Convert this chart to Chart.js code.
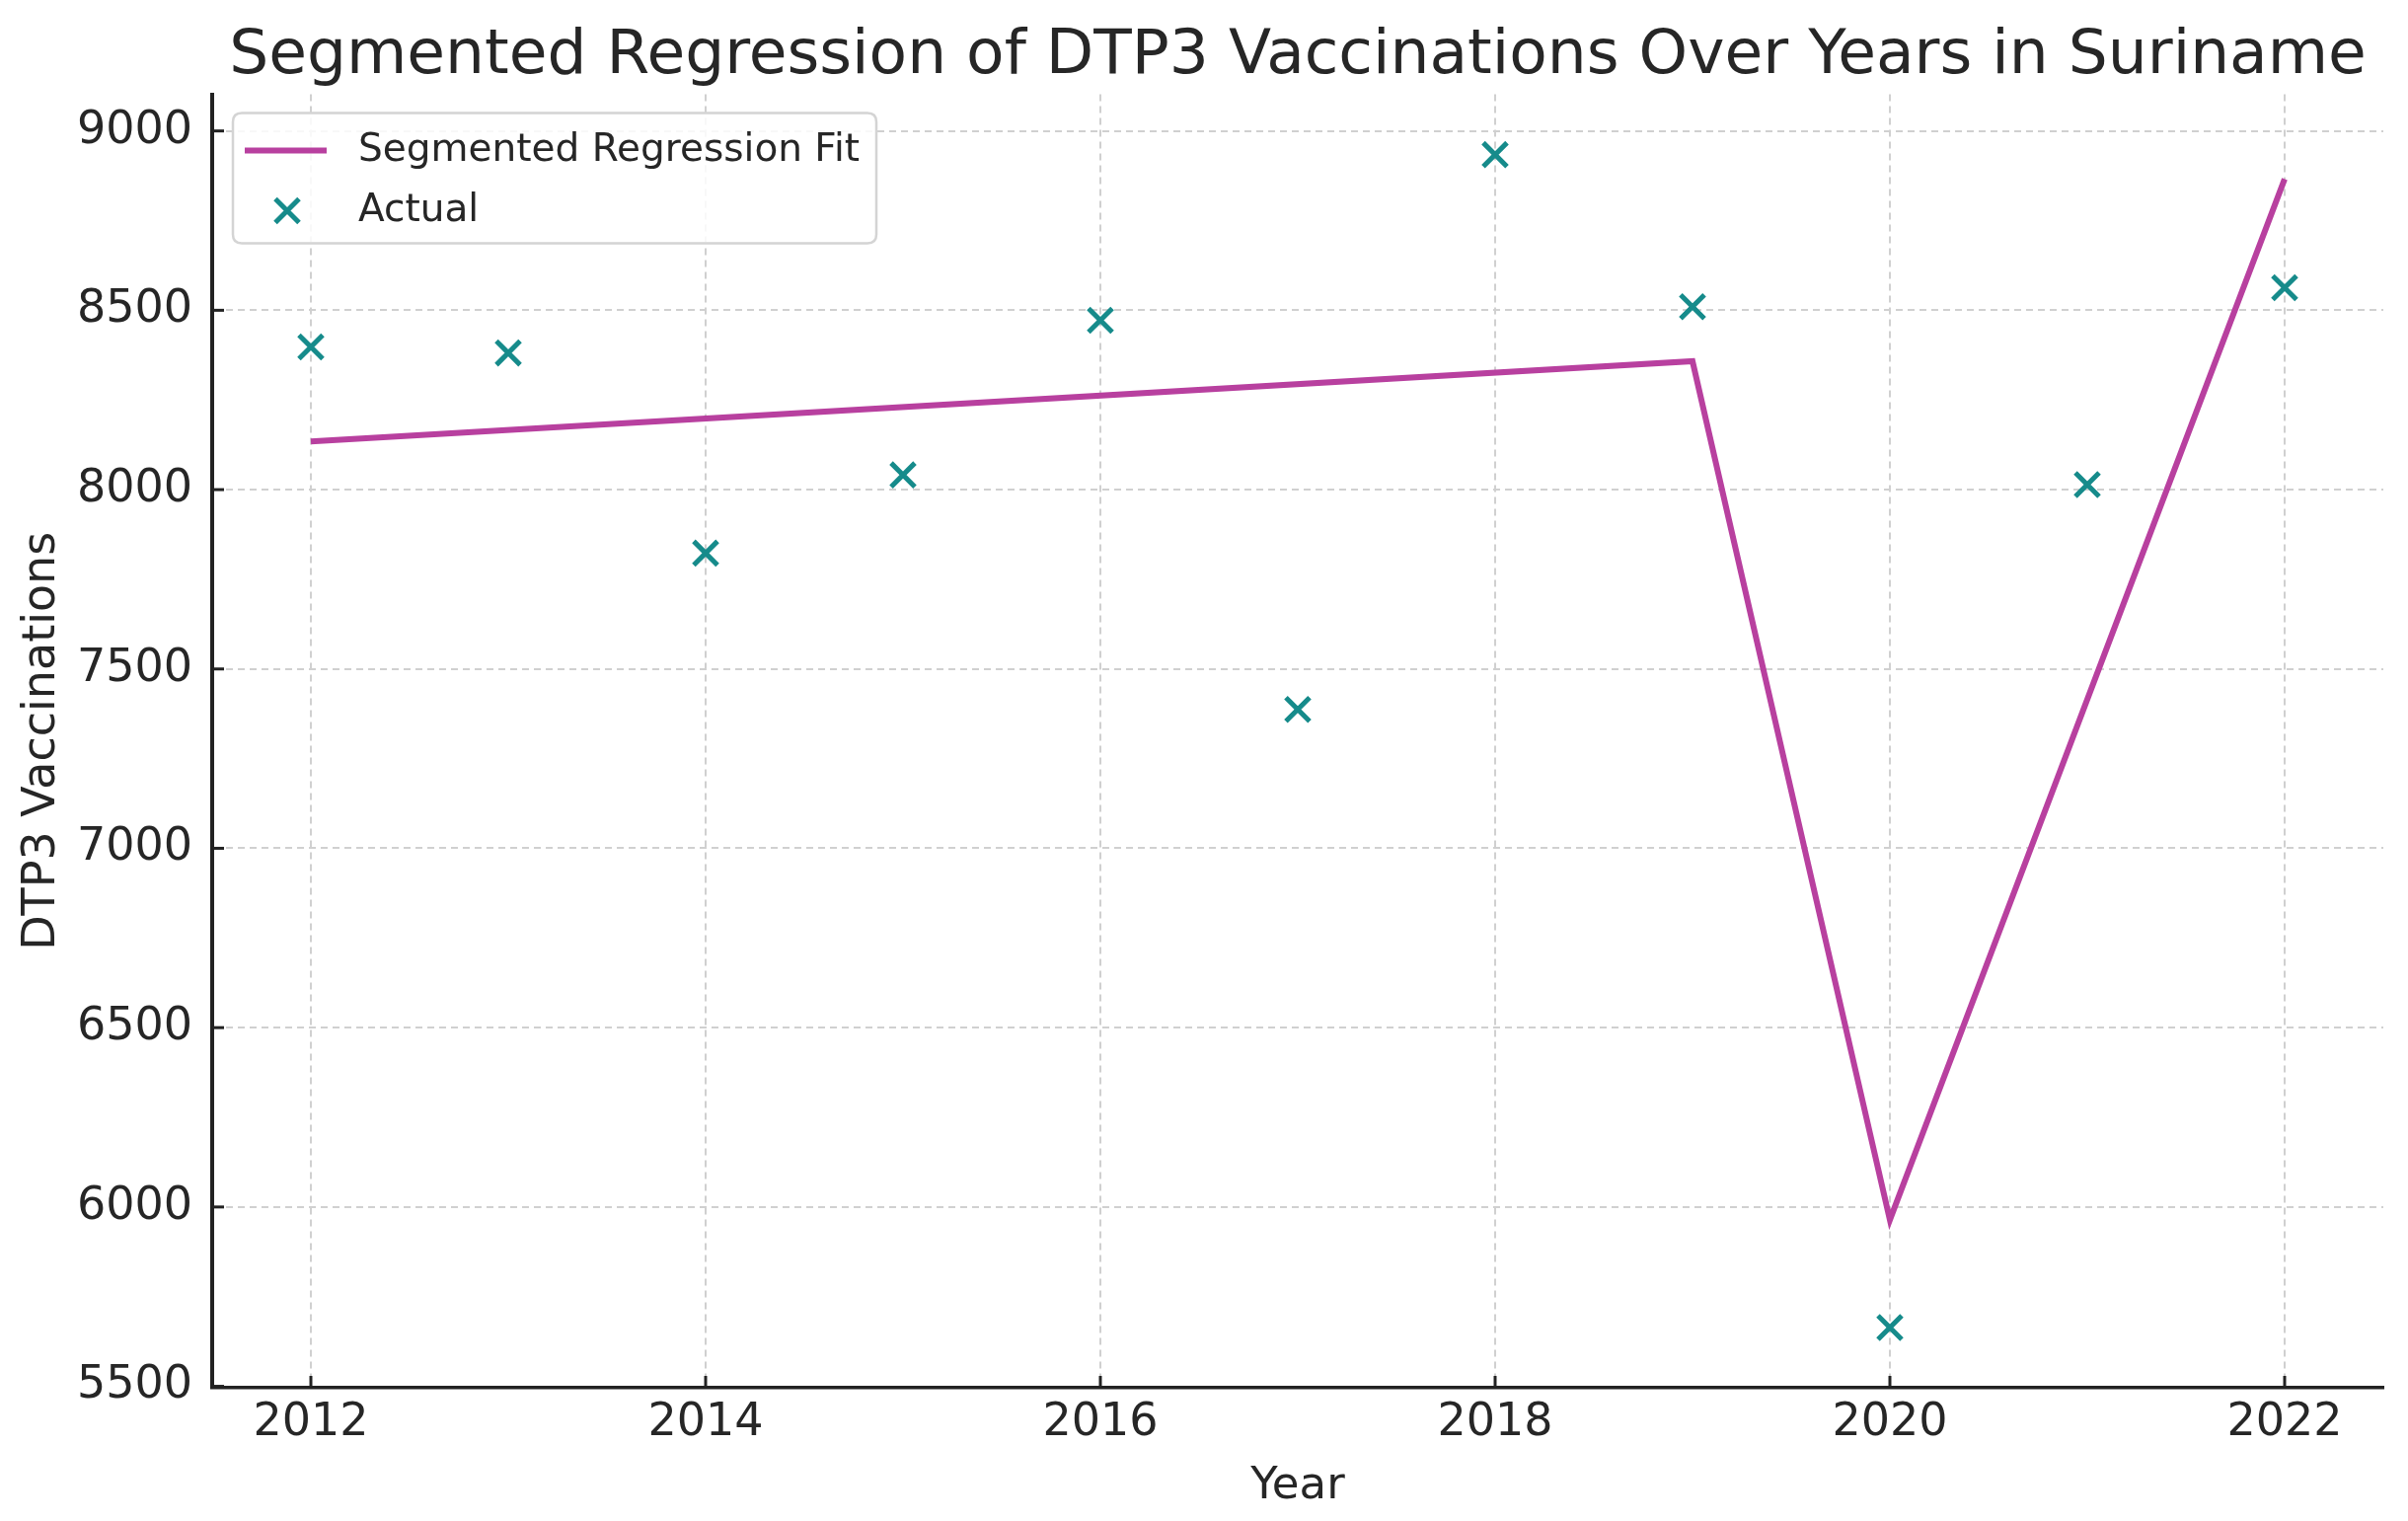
<!DOCTYPE html>
<html>
<head>
<meta charset="utf-8">
<script src="https://cdn.jsdelivr.net/npm/chart.js@4.4.1/dist/chart.umd.min.js"></script>
<style>
  html, body { margin: 0; padding: 0; background: #ffffff; }
  #wrap { width: 2440px; height: 1541px; }
</style>
</head>
<body>
<div id="wrap"><canvas id="c" width="2440" height="1541"></canvas></div>
<script>
const years = [2012, 2013, 2014, 2015, 2016, 2017, 2018, 2019, 2020, 2021, 2022];
const actualValues = [8398, 8381, 7823, 8041, 8472, 7387, 8934, 8510, 5664, 8014, 8563];
const fitYears = [2012, 2019, 2020, 2022];
const fitValues = [8134, 8358, 5964, 8866];
const xTickValues = [2012, 2014, 2016, 2018, 2020, 2022];
const yTickValues = [5500, 6000, 6500, 7000, 7500, 8000, 8500, 9000];

const FONT = "'DejaVu Sans', sans-serif";
const TEXT = '#262626';
const FIT_COLOR = '#B8409F';
const PT_COLOR = '#168B8B';

const fitData = fitYears.map((x, i) => ({ x: x, y: fitValues[i] }));
const actualData = years.map((x, i) => ({ x: x, y: actualValues[i] }));

const innerTicks = {
  id: 'innerTicks',
  afterDatasetsDraw(chart) {
    const ctx = chart.ctx;
    const xs = chart.scales.x, ys = chart.scales.y;
    const a = chart.chartArea;
    ctx.save();
    ctx.strokeStyle = '#222';
    ctx.lineWidth = 3;
    xs.ticks.forEach((t) => {
      const px = xs.getPixelForValue(t.value);
      ctx.beginPath(); ctx.moveTo(px, a.bottom); ctx.lineTo(px, a.bottom - 12); ctx.stroke();
    });
    ys.ticks.forEach((t) => {
      const py = ys.getPixelForValue(t.value);
      ctx.beginPath(); ctx.moveTo(a.left, py); ctx.lineTo(a.left + 12, py); ctx.stroke();
    });
    ctx.restore();
  }
};

const boxLegend = {
  id: 'boxLegend',
  afterDraw(chart) {
    const ctx = chart.ctx;
    const a = chart.chartArea;
    const ds = chart.data.datasets;
    const bx = a.left + 21, by = a.top + 19, bw = 652, bh = 132, r = 9;
    ctx.save();
    ctx.beginPath();
    ctx.moveTo(bx + r, by);
    ctx.lineTo(bx + bw - r, by); ctx.quadraticCurveTo(bx + bw, by, bx + bw, by + r);
    ctx.lineTo(bx + bw, by + bh - r); ctx.quadraticCurveTo(bx + bw, by + bh, bx + bw - r, by + bh);
    ctx.lineTo(bx + r, by + bh); ctx.quadraticCurveTo(bx, by + bh, bx, by + bh - r);
    ctx.lineTo(bx, by + r); ctx.quadraticCurveTo(bx, by, bx + r, by);
    ctx.closePath();
    ctx.fillStyle = 'rgba(255,255,255,0.85)';
    ctx.fill();
    ctx.strokeStyle = '#d4d4d4';
    ctx.lineWidth = 2.5;
    ctx.stroke();

    const row1 = by + 38, row2 = by + 99;
    // line sample
    ctx.strokeStyle = ds[0].borderColor;
    ctx.lineWidth = ds[0].borderWidth;
    ctx.beginPath(); ctx.moveTo(bx + 12, row1); ctx.lineTo(bx + 95, row1); ctx.stroke();
    // cross sample
    const cx = bx + 55, s = 12;
    ctx.strokeStyle = ds[1].borderColor;
    ctx.lineWidth = ds[1].borderWidth;
    ctx.beginPath();
    ctx.moveTo(cx - s, row2 - s); ctx.lineTo(cx + s, row2 + s);
    ctx.moveTo(cx + s, row2 - s); ctx.lineTo(cx - s, row2 + s);
    ctx.stroke();
    ctx.fillStyle = TEXT;
    ctx.font = '39px ' + FONT;
    ctx.textBaseline = 'middle';
    ctx.textAlign = 'left';
    ctx.fillText(ds[0].label, bx + 127, row1);
    ctx.fillText(ds[1].label, bx + 127, row2);
    ctx.restore();
  }
};

new Chart(document.getElementById('c'), {
  type: 'scatter',
  data: {
    datasets: [
      {
        type: 'line',
        label: 'Segmented Regression Fit',
        data: fitData,
        borderColor: FIT_COLOR,
        backgroundColor: FIT_COLOR,
        borderWidth: 6,
        pointRadius: 0,
        fill: false,
        tension: 0
      },
      {
        type: 'scatter',
        label: 'Actual',
        data: actualData,
        pointStyle: 'crossRot',
        pointRadius: 17,
        borderColor: PT_COLOR,
        backgroundColor: PT_COLOR,
        borderWidth: 5
      }
    ]
  },
  options: {
    responsive: false,
    devicePixelRatio: 1,
    animation: false,
    layout: { padding: { left: 0, right: 25, top: 0, bottom: 0 } },
    plugins: {
      legend: { display: false },
      tooltip: { enabled: false },
      title: {
        display: true,
        fullSize: false,
        text: 'Segmented Regression of DTP3 Vaccinations Over Years in Suriname',
        color: TEXT,
        font: { family: FONT, size: 63, weight: 'normal', lineHeight: 1.2 },
        padding: { top: 20, bottom: 0 }
      }
    },
    scales: {
      x: {
        type: 'linear',
        min: 2011.5,
        max: 2022.5,
        afterBuildTicks: (s) => { s.ticks = xTickValues.map(v => ({ value: v })); },
        afterFit: (s) => { s.height = 135; },
        ticks: {
          color: TEXT,
          font: { family: FONT, size: 46 },
          padding: 8,
          callback: (v) => String(v)
        },
        grid: { color: '#d0d0d0', lineWidth: 2, drawTicks: false },
        border: { display: true, color: '#222', width: 3.5, dash: [7, 5] },
        title: {
          display: true,
          text: 'Year',
          color: TEXT,
          font: { family: FONT, size: 45, lineHeight: 1.2 },
          padding: { top: 0, bottom: 8 }
        }
      },
      y: {
        type: 'linear',
        min: 5496,
        max: 9102,
        afterBuildTicks: (s) => { s.ticks = yTickValues.map(v => ({ value: v })); },
        afterFit: (s) => { s.width = 215; },
        ticks: {
          color: TEXT,
          font: { family: FONT, size: 46 },
          padding: 20,
          callback: (v) => String(v)
        },
        grid: { color: '#d0d0d0', lineWidth: 2, drawTicks: false },
        border: { display: true, color: '#222', width: 4, dash: [7, 5] },
        title: {
          display: true,
          text: 'DTP3 Vaccinations',
          color: TEXT,
          font: { family: FONT, size: 46, lineHeight: 1.2 },
          padding: { top: 15, bottom: 0 }
        }
      }
    }
  },
  plugins: [innerTicks, boxLegend]
});
</script>
</body>
</html>
